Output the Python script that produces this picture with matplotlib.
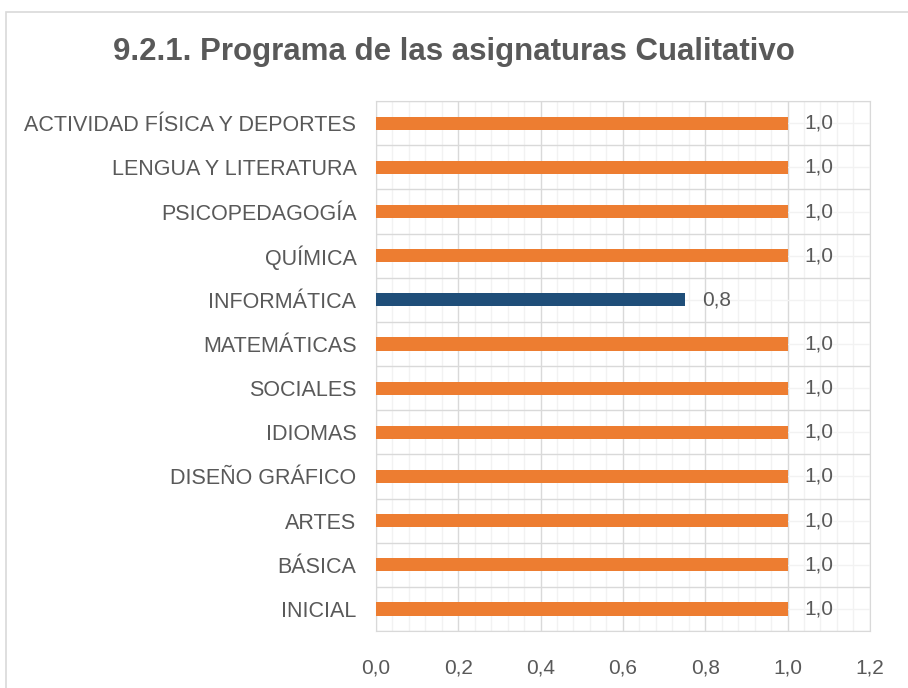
import numpy as np
import matplotlib
matplotlib.use("Agg")
import matplotlib.pyplot as plt
from matplotlib.ticker import FuncFormatter, MultipleLocator
from matplotlib.patches import Rectangle

plt.rcParams["font.family"] = ["Liberation Sans", "DejaVu Sans"]

# Data (top to bottom as shown)
categories = ["ACTIVIDAD FÍSICA Y DEPORTES", "LENGUA Y LITERATURA", "PSICOPEDAGOGÍA",
              "QUÍMICA", "INFORMÁTICA", "MATEMÁTICAS", "SOCIALES", "IDIOMAS",
              "DISEÑO GRÁFICO", "ARTES", "BÁSICA", "INICIAL"]
values = [1.0, 1.0, 1.0, 1.0, 0.75, 1.0, 1.0, 1.0, 1.0, 1.0, 1.0, 1.0]
highlight = "INFORMÁTICA"

orange = "#ED7D31"
blue = "#1F4E79"
text_grey = "#595959"

fig = plt.figure(figsize=(9.08, 6.88), dpi=100)
ax = fig.add_axes([0.414, 0.0828, 0.544, 0.7702])

# outer chart border
fig.patches.append(Rectangle((6 / 908, -0.01), 1.0, 1.0 - 12 / 688 + 0.01,
                             transform=fig.transFigure, fill=False,
                             edgecolor="#D9D9D9", linewidth=1.2))

y = np.arange(len(categories))[::-1]
colors = [blue if c == highlight else orange for c in categories]
ax.barh(y, values, height=0.3, color=colors, zorder=3)

for yi, v in zip(y, values):
    ax.text(v + 0.042, yi, f"{v:.1f}".replace(".", ","), va="center", ha="left",
            fontsize=15, color=text_grey)

ax.set_xlim(0, 1.2)
ax.set_ylim(-0.5, len(categories) - 0.5)
ax.set_yticks(y)
ax.set_yticklabels(categories)
ax.xaxis.set_major_locator(MultipleLocator(0.2))
ax.xaxis.set_minor_locator(MultipleLocator(0.04))
ax.xaxis.set_major_formatter(FuncFormatter(lambda v, p: f"{v:.1f}".replace(".", ",")))
ax.set_yticks(np.arange(-0.5, len(categories), 1.0), minor=True)

# gridlines: major on value axis + category boundaries, minor elsewhere
ax.grid(True, axis="x", which="major", color="#D9D9D9", linewidth=1.0, zorder=0)
ax.grid(True, axis="x", which="minor", color="#F2F2F2", linewidth=1.0, zorder=0)
ax.grid(True, axis="y", which="minor", color="#D9D9D9", linewidth=1.0, zorder=0)
ax.grid(True, axis="y", which="major", color="#F2F2F2", linewidth=1.0, zorder=0)
ax.set_axisbelow(True)

for s in ax.spines.values():
    s.set_color("#D9D9D9")
ax.tick_params(axis="y", which="both", length=0, labelsize=15.5, colors=text_grey, pad=14)
ax.tick_params(axis="x", which="both", length=0, labelsize=15, colors=text_grey, pad=20)

fig.text(0.5, 0.924, "9.2.1. Programa de las asignaturas Cualitativo", ha="center",
         va="center", fontsize=22.5, fontweight="bold", color=text_grey)

fig.savefig("out.png", dpi=100)
plt.close(fig)
